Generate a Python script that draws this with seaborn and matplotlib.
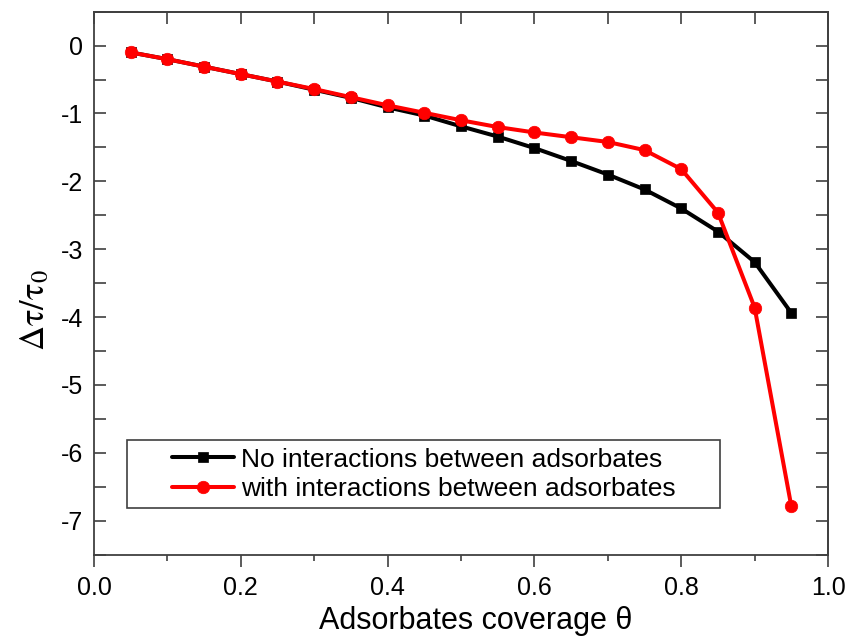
import pandas as pd
import matplotlib
matplotlib.use("Agg")
import matplotlib.pyplot as plt
import matplotlib.patches as patches
from matplotlib.ticker import MultipleLocator, FormatStrFormatter
import seaborn as sns

# adsorbate coverage and relative change of tau
theta = [0.05, 0.10, 0.15, 0.20, 0.25, 0.30, 0.35, 0.40, 0.45, 0.50,
         0.55, 0.60, 0.65, 0.70, 0.75, 0.80, 0.85, 0.90, 0.95]
no_interaction = [-0.10, -0.20, -0.31, -0.42, -0.53, -0.65, -0.77, -0.91, -1.03, -1.19,
                  -1.34, -1.51, -1.70, -1.90, -2.12, -2.40, -2.74, -3.19, -3.94]
with_interaction = [-0.10, -0.20, -0.31, -0.42, -0.53, -0.64, -0.76, -0.88, -0.99, -1.10,
                    -1.20, -1.28, -1.35, -1.42, -1.54, -1.82, -2.46, -3.86, -6.79]
labels = ["No interactions between adsorbates", "with interactions between adsorbates"]

df = pd.DataFrame({"theta": theta, "no": no_interaction, "with": with_interaction})

sns.set_theme(style="ticks")
plt.rcParams["font.family"] = ["Liberation Sans", "DejaVu Sans"]
plt.rcParams["mathtext.fontset"] = "stix"
plt.rcParams["axes.unicode_minus"] = False
plt.rcParams["text.color"] = "black"
plt.rcParams["axes.labelcolor"] = "black"
plt.rcParams["xtick.labelcolor"] = "black"
plt.rcParams["ytick.labelcolor"] = "black"

axis_col = "#404040"

fig = plt.figure(figsize=(8.49, 6.39), dpi=100)
ax = fig.add_axes([0.1107, 0.1322, 0.8646, 0.8495])

sns.lineplot(data=df, x="theta", y="no", ax=ax, color="black", marker="s",
             markersize=7.5, markeredgecolor="black", markeredgewidth=0.5,
             linewidth=2.9, label=labels[0], zorder=3)
sns.lineplot(data=df, x="theta", y="with", ax=ax, color="red", marker="o",
             markersize=9, markeredgecolor="red", markeredgewidth=0.5,
             linewidth=2.9, label=labels[1], zorder=3)

ax.set_xlim(0, 1.0)
ax.set_ylim(-7.5, 0.5)

# bottom axis: ticks outward
ax.xaxis.set_major_locator(MultipleLocator(0.2))
ax.xaxis.set_minor_locator(MultipleLocator(0.1))
ax.xaxis.set_major_formatter(FormatStrFormatter("%.1f"))
ax.tick_params(axis="x", which="major", direction="out", length=8.4, width=1.2,
               color=axis_col, labelsize=18, pad=7)
ax.tick_params(axis="x", which="minor", direction="out", length=4.3, width=1.2,
               color=axis_col)

# left axis: ticks inward
ax.yaxis.set_major_locator(MultipleLocator(1))
ax.yaxis.set_minor_locator(MultipleLocator(0.5))
ax.tick_params(axis="y", which="both", direction="in", length=8.4, width=1.2,
               color=axis_col, labelsize=18, pad=8)

# mirrored ticks on top and right
sec_x = ax.secondary_xaxis("top")
sec_x.xaxis.set_major_locator(MultipleLocator(0.1))
sec_x.tick_params(direction="in", length=8.4, width=1.2, color=axis_col, labeltop=False)
sec_x.spines["top"].set_color(axis_col)
sec_x.spines["top"].set_linewidth(1.3)
sec_y = ax.secondary_yaxis("right")
sec_y.yaxis.set_major_locator(MultipleLocator(0.5))
sec_y.tick_params(direction="in", length=8.4, width=1.2, color=axis_col, labelright=False)
sec_y.spines["right"].set_color(axis_col)
sec_y.spines["right"].set_linewidth(1.3)

for side in ["left", "bottom", "top", "right"]:
    ax.spines[side].set_visible(True)
    ax.spines[side].set_color(axis_col)
    ax.spines[side].set_linewidth(1.3)

ax.set_xlabel("Adsorbates coverage θ", fontsize=22)
ax.xaxis.set_label_coords(0.52, -0.094)
ax.set_ylabel(r"$\mathrm{Δτ/τ}_{\mathrm{0}}$", fontsize=25)
ax.yaxis.set_label_coords(-0.058, 0.45)

leg = ax.legend(frameon=False, loc="center", bbox_to_anchor=(0.449, 0.148),
                fontsize=19, handlelength=2.35, handletextpad=0.25,
                labelspacing=0.2, borderpad=0, numpoints=1)
box = patches.Rectangle((0.0446, 0.0857), 0.8083, 0.1253, transform=ax.transAxes,
                        fill=False, edgecolor=axis_col, linewidth=1.2, zorder=4)
ax.add_patch(box)

fig.savefig("out.png", dpi=100)
